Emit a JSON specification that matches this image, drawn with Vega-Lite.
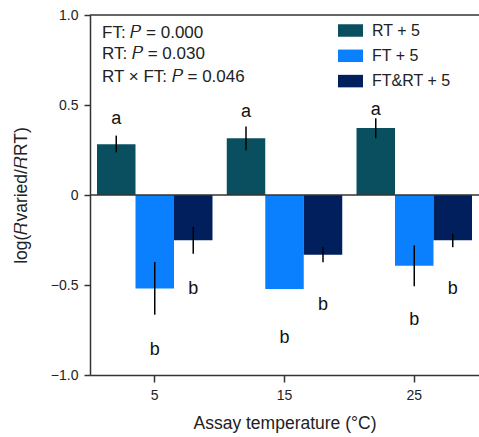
{
  "$schema": "https://vega.github.io/schema/vega-lite/v6.json",
  "autosize": {"type": "none"},
  "padding": {"left": 90, "top": 15, "right": 0, "bottom": 62},
  "width": 389,
  "height": 360,
  "config": {
    "font": "Liberation Sans",
    "view": {"stroke": null},
    "axis": {"domainColor": "#333", "tickColor": "#333", "labelColor": "#222", "titleColor": "#222", "domainWidth": 1.5, "tickWidth": 1.5, "grid": false, "labelFontSize": 14, "titleFontSize": 17.5, "titleFontWeight": "normal", "tickSize": 6}
  },
  "datasets": {
    "bars": [
      {"temp": "5", "group": "RT + 5", "value": 0.282, "lo": 0.237, "hi": 0.330, "letter": "a", "letterY": 0.42},
      {"temp": "5", "group": "FT + 5", "value": -0.52, "lo": -0.665, "hi": -0.372, "letter": "b", "letterY": -0.862},
      {"temp": "5", "group": "FT&RT + 5", "value": -0.252, "lo": -0.326, "hi": -0.178, "letter": "b", "letterY": -0.52},
      {"temp": "15", "group": "RT + 5", "value": 0.315, "lo": 0.248, "hi": 0.381, "letter": "a", "letterY": 0.459},
      {"temp": "15", "group": "FT + 5", "value": -0.522, "lo": -0.522, "hi": -0.522, "letter": "b", "letterY": -0.797},
      {"temp": "15", "group": "FT&RT + 5", "value": -0.332, "lo": -0.374, "hi": -0.29, "letter": "b", "letterY": -0.609},
      {"temp": "25", "group": "RT + 5", "value": 0.372, "lo": 0.315, "hi": 0.427, "letter": "a", "letterY": 0.474},
      {"temp": "25", "group": "FT + 5", "value": -0.393, "lo": -0.507, "hi": -0.28, "letter": "b", "letterY": -0.696},
      {"temp": "25", "group": "FT&RT + 5", "value": -0.252, "lo": -0.29, "hi": -0.215, "letter": "b", "letterY": -0.52}
    ],
    "stats": [
      {"temp": "5", "line": "FT: 𝑃 = 0.000", "y": 0.902},
      {"temp": "5", "line": "RT: 𝑃 = 0.030", "y": 0.782},
      {"temp": "5", "line": "RT × FT: 𝑃 = 0.046", "y": 0.657}
    ]
  },
  "layer": [
    {
      "data": {"name": "bars"},
      "mark": {"type": "bar"},
      "encoding": {
        "x": {"field": "temp", "type": "nominal", "sort": ["5", "15", "25"], "scale": {"paddingInner": 0.11, "paddingOuter": 0.054}, "axis": {"labelAngle": 0, "title": "Assay temperature (°C)", "labelPadding": 6, "titlePadding": 12, "tickSize": 7}},
        "xOffset": {"field": "group", "type": "nominal", "sort": ["RT + 5", "FT + 5", "FT&RT + 5"], "scale": {"paddingInner": 0, "paddingOuter": 0}},
        "y": {"field": "value", "type": "quantitative", "scale": {"domain": [-1, 1], "nice": false}, "axis": {"values": [-1, -0.5, 0, 0.5, 1], "labelExpr": "datum.value == 0 ? '0' : format(datum.value, '.1f')", "title": "log(𝑅varied/𝑅RT)", "labelPadding": 6, "titlePadding": 20}},
        "color": {"field": "group", "type": "nominal", "sort": ["RT + 5", "FT + 5", "FT&RT + 5"], "scale": {"domain": ["RT + 5", "FT + 5", "FT&RT + 5"], "range": ["#0a4f5f", "#0a80ff", "#001f5c"]},
          "legend": {"title": null, "orient": "none", "legendX": 248, "legendY": 3, "symbolType": "M-1,-0.5H1V0.5H-1Z", "symbolSize": 625, "symbolStrokeWidth": 0, "labelFontSize": 16, "labelColor": "#222", "labelOffset": 9, "rowPadding": 4.3}}
      }
    },
    {
      "data": {"name": "bars"},
      "mark": {"type": "rule", "color": "#000", "strokeWidth": 1.5},
      "encoding": {
        "x": {"field": "temp", "type": "nominal", "sort": ["5", "15", "25"]},
        "xOffset": {"field": "group", "type": "nominal", "sort": ["RT + 5", "FT + 5", "FT&RT + 5"]},
        "y": {"field": "lo", "type": "quantitative"},
        "y2": {"field": "hi"}
      }
    },
    {
      "data": {"name": "bars"},
      "mark": {"type": "text", "fontSize": 18, "color": "#111", "baseline": "middle"},
      "encoding": {
        "x": {"field": "temp", "type": "nominal", "sort": ["5", "15", "25"]},
        "xOffset": {"field": "group", "type": "nominal", "sort": ["RT + 5", "FT + 5", "FT&RT + 5"]},
        "y": {"field": "letterY", "type": "quantitative"},
        "text": {"field": "letter"}
      }
    },
    {
      "data": {"values": [{"y": 0}, {"y": 1}]},
      "mark": {"type": "rule", "color": "#333", "strokeWidth": 1.5},
      "encoding": {"y": {"field": "y", "type": "quantitative"}}
    },
    {
      "data": {"name": "stats"},
      "mark": {"type": "text", "fontSize": 17, "color": "#222", "align": "left", "baseline": "middle", "dx": 5},
      "encoding": {
        "x": {"field": "temp", "type": "nominal", "sort": ["5", "15", "25"], "bandPosition": 0},
        "y": {"field": "y", "type": "quantitative"},
        "text": {"field": "line"}
      }
    }
  ]
}
